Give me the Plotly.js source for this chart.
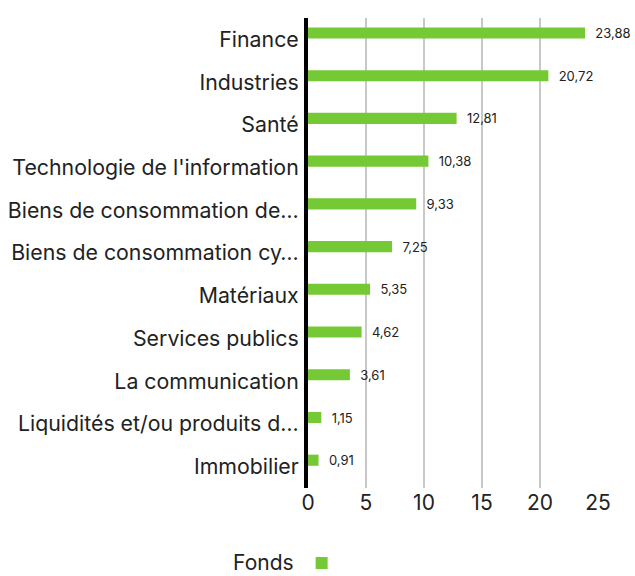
<!DOCTYPE html>
<html><head><meta charset="utf-8">
<script src="https://cdn.plot.ly/plotly-3.0.1.min.js"></script>
<style>html,body{margin:0;padding:0;background:#fff}</style>
</head><body><div id="chart" style="width:635px;height:576px"></div>
<script>
const categories = ["Finance","Industries","Santé","Technologie de l'information","Biens de consommation de…","Biens de consommation cy…","Matériaux","Services publics","La communication","Liquidités et/ou produits d…","Immobilier"];
const values = [23.88,20.72,12.81,10.38,9.33,7.25,5.35,4.62,3.61,1.15,0.91];
const valueLabels = ["23,88","20,72","12,81","10,38","9,33","7,25","5,35","4,62","3,61","1,15","0,91"];
const seriesName = "Fonds";
const xTicks = [0,5,10,15,20,25];

const trace = {
  type:'bar', orientation:'h', y:categories, x:values,
  text: valueLabels.map(s=>'  '+s), textposition:'outside', cliponaxis:false, constraintext:'none',
  textfont:{family:'Inter, sans-serif', size:13, color:'#222'},
  marker:{color:'#74c934'}, width:0.26, offset:-0.28,
  name:' ', showlegend:true, hoverinfo:'none'
};
const layout = {
  width:635, height:576, margin:{l:308,r:37,t:18,b:88, autoexpand:false},
  paper_bgcolor:'#fff', plot_bgcolor:'#fff',
  font:{family:'Inter, sans-serif', color:'#222'},
  xaxis:{range:[0,25], tickvals:xTicks, ticktext:xTicks.map(String), showgrid:true, gridcolor:'#c8c8c8', gridwidth:2,
    zeroline:false, showline:false, ticks:'', tickfont:{size:21,color:'#222'}, automargin:false},
  yaxis:{autorange:'reversed', showline:true, linecolor:'#000', linewidth:4, ticks:'', showgrid:false,
    tickfont:{size:21.3,color:'#222'}, ticklabelstandoff:1, automargin:false},
  showlegend:true,
  legend:{orientation:'h', xref:'container', yref:'container', x:0.46, xanchor:'center', y:0.022, yanchor:'middle',
    title:{text:seriesName, side:'left', font:{size:21,color:'#222'}}, font:{size:21}},
  bargap:0.7
};
Plotly.newPlot('chart',[trace],layout,{displayModeBar:false,staticPlot:true});
</script></body></html>
